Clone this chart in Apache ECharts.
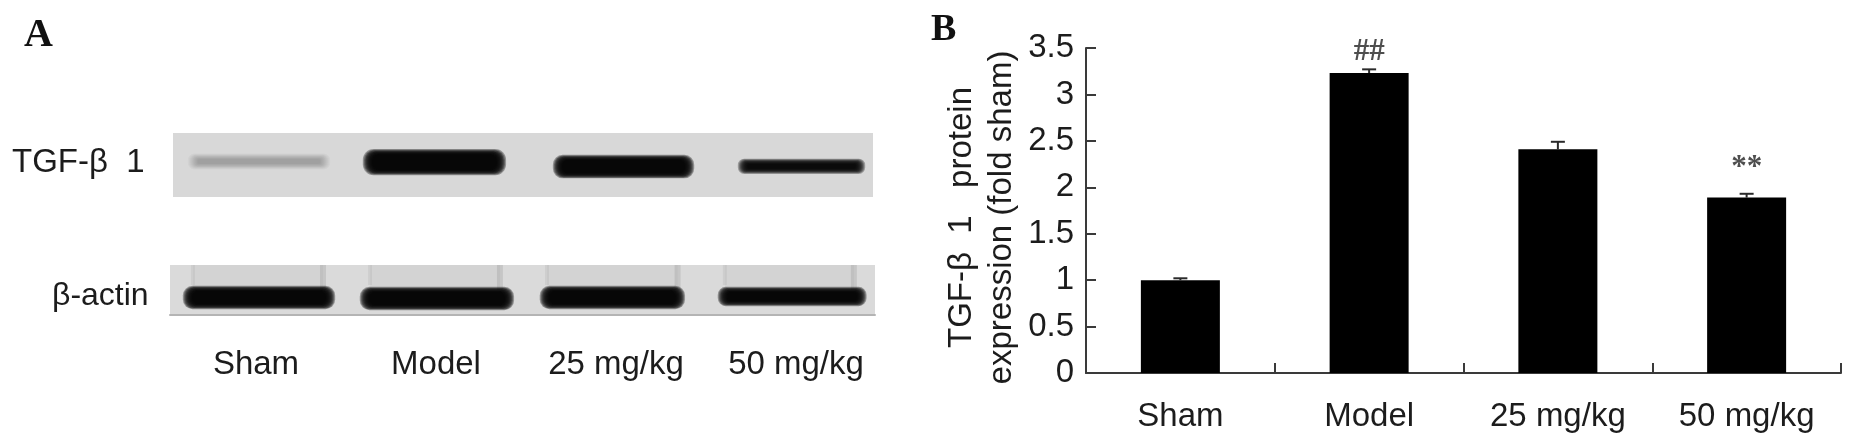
<!DOCTYPE html>
<html>
<head>
<meta charset="utf-8">
<style>
  html, body { margin: 0; padding: 0; background: #fff; }
  #chart { width: 1852px; height: 443px; }
</style>
<script src="https://cdn.jsdelivr.net/npm/echarts@6/dist/echarts.min.js"></script>
</head>
<body>
<div id="chart"></div>
<script>
// panel B
const groups = ['Sham', 'Model', '25 mg/kg', '50 mg/kg']
const foldSham = [1.0, 3.23, 2.41, 1.89]
const errorTop = [1.02, 3.27, 2.49, 1.93]
const marks = ['', '##', '', '**']
const markHeight = ['-', 3.46, '-', 2.21]

const tgfDensity = [0.24, 1, 1, 0.97]
const tgfLeft = [0.097, 1.097, 2.183, 3.24]
const tgfRight = [0.886, 1.891, 2.966, 3.943]
const tgfTop = [34, 27, 36, 42]
const tgfBottom = [55, 64, 69, 62]

const actinDensity = [1, 1, 1, 1]
const actinLeft = [0.085, 1.089, 2.11, 3.12]
const actinRight = [0.925, 1.94, 2.91, 3.94]
const actinTop = [44, 46, 44, 46]
const actinBottom = [86, 88, 86, 80]
const actinLaneLeft = [0.13, 1.135, 2.139, 3.148]
const actinLaneRight = [0.868, 1.872, 2.88, 3.88]

const textColor = '#1c1c1c'
const axisColor = '#3a3a3a'
const sansFont = '"Liberation Sans", Arial, sans-serif'
const serifFont = '"Liberation Serif", "Times New Roman", serif'

// soft-edged band: stacked rounded rects, each one inset a bit more
function renderBand (params, api) {
  const p0 = api.coord([api.value(0), api.value(2)])
  const p1 = api.coord([api.value(1), api.value(3)])
  const density = Math.min(api.value(4), 0.985)
  const layers = 10
  const alpha = 1 - Math.pow(1 - density, 1 / layers)
  const children = []
  for (let i = 0; i < layers; i++) {
    const d = (i - 2) * 0.6
    const h = Math.max(p1[1] - p0[1] - d * 2, 2)
    children.push({
      type: 'rect',
      shape: {
        x: p0[0] + d * 1.8,
        y: (p0[1] + p1[1]) / 2 - h / 2,
        width: p1[0] - p0[0] - d * 3.6,
        height: h,
        r: h / 2.4
      },
      style: { fill: 'rgba(6,6,6,' + alpha + ')' }
    })
  }
  return { type: 'group', children }
}

function renderLane (params, api) {
  const p0 = api.coord([api.value(0), 0])
  const p1 = api.coord([api.value(1), 100])
  const h = p1[1] - p0[1]
  return {
    type: 'group',
    children: [
      { type: 'rect', shape: { x: p0[0], y: p0[1], width: p1[0] - p0[0], height: h * 0.6 }, style: { fill: 'rgba(0,0,0,0.03)' } },
      { type: 'rect', shape: { x: p1[0] - 3, y: p0[1], width: 6, height: h * 0.5 }, style: { fill: 'rgba(0,0,0,0.09)' } },
      { type: 'rect', shape: { x: p0[0] - 2, y: p0[1], width: 4, height: h * 0.4 }, style: { fill: 'rgba(0,0,0,0.05)' } }
    ]
  }
}

function renderError (params, api) {
  const x = api.coord([api.value(0), 0])[0]
  const yBar = api.coord([0, api.value(1)])[1]
  const yTop = api.coord([0, api.value(2)])[1]
  const line = { stroke: '#2a2a2a', lineWidth: 2 }
  return {
    type: 'group',
    children: [
      { type: 'line', shape: { x1: x, y1: yBar, x2: x, y2: yTop }, style: line },
      { type: 'line', shape: { x1: x - 7, y1: yTop, x2: x + 7, y2: yTop }, style: line }
    ]
  }
}

const blotX = (gridIndex) => ({ type: 'value', gridIndex, min: 0, max: 4, show: false })
const blotY = (gridIndex) => ({ type: 'value', gridIndex, min: 0, max: 100, inverse: true, show: false })

const bandRows = (left, right, top, bottom, density) =>
  left.map((v, i) => [v, right[i], top[i], bottom[i], density[i]])

const chart = echarts.init(document.getElementById('chart'), null, { renderer: 'canvas' })

chart.setOption({
  animation: false,
  backgroundColor: '#fff',
  graphic: [
    { type: 'text', left: 24, top: 16, style: { text: 'A', font: 'bold 40px ' + serifFont, fill: '#111' } },
    { type: 'text', left: 931, top: 11, style: { text: 'B', font: 'bold 38px ' + serifFont, fill: '#111' } },
    { type: 'text', left: 12, top: 146, style: { text: 'TGF-β  1', font: '33px ' + sansFont, fill: textColor } },
    { type: 'text', left: 52, top: 280, style: { text: 'β-actin', font: '32px ' + sansFont, fill: textColor } }
  ],
  grid: [
    { left: 173, top: 133, width: 700, height: 64, show: true, backgroundColor: '#d8d8d8', borderWidth: 0 },
    { left: 170, top: 265, width: 705, height: 50, show: true, backgroundColor: '#dadada', borderWidth: 0 },
    { left: 166, top: 316, width: 720, height: 10 },
    { left: 1086, top: 48, width: 755, height: 325 }
  ],
  xAxis: [
    blotX(0),
    {
      type: 'value', gridIndex: 1, min: 0, max: 4, position: 'bottom',
      axisLine: { show: true, onZero: false, lineStyle: { color: '#b4b4b4', width: 2 } },
      axisTick: { show: false }, axisLabel: { show: false }, splitLine: { show: false }
    },
    {
      type: 'category', gridIndex: 2, data: groups,
      axisLine: { show: false }, axisTick: { show: false },
      axisLabel: { color: textColor, fontFamily: sansFont, fontSize: 33, margin: 22, interval: 0 }
    },
    {
      type: 'category', gridIndex: 3, data: groups,
      axisLine: { show: true, lineStyle: { color: axisColor, width: 2 } },
      axisTick: { show: true, inside: true, length: 10, alignWithLabel: false, lineStyle: { color: axisColor, width: 2 } },
      axisLabel: { color: textColor, fontFamily: sansFont, fontSize: 33, margin: 27, interval: 0 }
    }
  ],
  yAxis: [
    blotY(0),
    blotY(1),
    { type: 'value', gridIndex: 2, show: false },
    {
      type: 'value', gridIndex: 3, min: 0, max: 3.5, interval: 0.5,
      name: 'TGF-β  1   protein\nexpression (fold sham)',
      nameLocation: 'middle', nameRotate: 90, nameGap: 64,
      nameTextStyle: { color: textColor, fontFamily: sansFont, fontSize: 33, lineHeight: 40, padding: [0, 14, 0, 0] },
      axisLine: { show: true, lineStyle: { color: axisColor, width: 2 } },
      axisTick: { show: true, inside: true, length: 10, lineStyle: { color: axisColor, width: 2 } },
      axisLabel: { color: textColor, fontFamily: sansFont, fontSize: 33, margin: 12 },
      splitLine: { show: false }
    }
  ],
  series: [
    {
      type: 'custom', xAxisIndex: 0, yAxisIndex: 0,
      renderItem: renderBand,
      data: bandRows(tgfLeft, tgfRight, tgfTop, tgfBottom, tgfDensity)
    },
    {
      type: 'custom', xAxisIndex: 1, yAxisIndex: 1,
      renderItem: renderLane,
      data: actinLaneLeft.map((v, i) => [v, actinLaneRight[i]])
    },
    {
      type: 'custom', xAxisIndex: 1, yAxisIndex: 1,
      renderItem: renderBand,
      data: bandRows(actinLeft, actinRight, actinTop, actinBottom, actinDensity)
    },
    {
      type: 'bar', xAxisIndex: 3, yAxisIndex: 3, barWidth: 79,
      itemStyle: { color: '#000' },
      data: foldSham
    },
    {
      type: 'custom', xAxisIndex: 3, yAxisIndex: 3,
      renderItem: renderError,
      data: foldSham.map((v, i) => [i, v, errorTop[i]])
    },
    {
      type: 'scatter', xAxisIndex: 3, yAxisIndex: 3, symbolSize: 1,
      itemStyle: { color: 'transparent' },
      clip: false,
      label: {
        show: true, position: 'inside',
        formatter: (p) => marks[p.dataIndex],
        color: '#222', fontFamily: serifFont, fontSize: 31, fontWeight: 'bold'
      },
      data: markHeight
    }
  ]
})
</script>
</body>
</html>
